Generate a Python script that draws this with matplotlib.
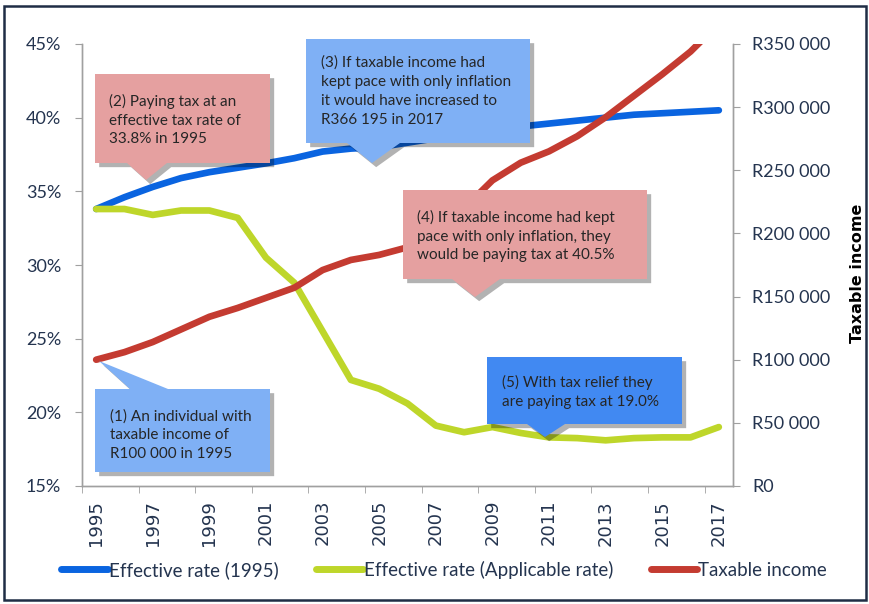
import matplotlib
matplotlib.use("Agg")
import matplotlib.pyplot as plt
import matplotlib.patheffects as pe
from matplotlib import font_manager
from matplotlib.patches import Polygon, Rectangle
from matplotlib.ticker import FuncFormatter, FixedLocator

# data
years = [1995, 1996, 1997, 1998, 1999, 2000, 2001, 2002, 2003, 2004, 2005, 2006,
         2007, 2008, 2009, 2010, 2011, 2012, 2013, 2014, 2015, 2016, 2017]
rate_1995 = [33.8, 34.6, 35.3, 35.9, 36.3, 36.6, 36.9, 37.25, 37.7, 37.9, 38.0, 38.3,
             38.6, 38.9, 39.2, 39.4, 39.6, 39.8, 40.0, 40.2, 40.3, 40.4, 40.5]
rate_applicable = [33.8, 33.8, 33.4, 33.7, 33.7, 33.2, 30.5, 28.8, 25.5, 22.2, 21.6, 20.6,
                   19.1, 18.65, 19.0, 18.6, 18.3, 18.25, 18.1, 18.25, 18.3, 18.3, 19.0]
taxable_income = [100000, 106000, 114000, 124000, 134000, 141000, 149000, 157000, 171000,
                  179000, 183000, 189000, 202000, 220000, 242000, 256000, 265000, 277000,
                  292000, 309000, 326000, 344000, 366195]
series_names = ["Effective rate (1995)", "Effective rate (Applicable rate)", "Taxable income"]

W, H = 870, 604
names = {f.name for f in font_manager.fontManager.ttflist}
main_font = "Liberation Sans Narrow" if "Liberation Sans Narrow" in names else "Lato"
plt.rcParams["font.family"] = [main_font, "DejaVu Sans"]

navy = "#24344f"
blue, green, red = "#0a64e0", "#bed62a", "#c43b31"

fig = plt.figure(figsize=(W / 100, H / 100), dpi=100)
ax = fig.add_axes([82 / W, 1 - 486 / H, 651 / W, 442 / H])
ax2 = ax.twinx()

x = list(range(len(years)))
lw = 4.8
ax.plot(x, rate_1995, color=blue, lw=lw, solid_capstyle="round", solid_joinstyle="round")
ax.plot(x, rate_applicable, color=green, lw=lw, solid_capstyle="round", solid_joinstyle="round")
ax2.plot(x, taxable_income, color=red, lw=lw, solid_capstyle="round", solid_joinstyle="round")

ax.set_xlim(-0.5, len(years) - 0.5)
ax.set_ylim(15, 45)
ax2.set_ylim(0, 350000)
ax.set_yticks(range(15, 50, 5))
ax.yaxis.set_major_formatter(FuncFormatter(lambda v, p: f"{v:.0f}%"))
ax2.set_yticks(range(0, 350001, 50000))
ax2.yaxis.set_major_formatter(
    FuncFormatter(lambda v, p: "R" + f"{v:,.0f}".replace(",", " ")))

# category labels every second year, tick marks between categories
ax.set_xticks(x[::2])
ax.set_xticklabels([str(y) for y in years[::2]], rotation=90, fontsize=13,
                   family="DejaVu Sans", color=navy)
ax.xaxis.set_minor_locator(FixedLocator([i - 0.5 for i in x[::2]]))
ax.tick_params(axis="x", which="major", length=0, pad=10)
ax.tick_params(axis="x", which="minor", length=5, color="#a0a0a0")

ax.tick_params(axis="y", length=5, color="#a0a0a0", labelsize=13, labelcolor=navy, pad=10)
ax2.tick_params(axis="y", length=5, color="#a0a0a0", labelsize=13, labelcolor=navy, pad=9)

for a in (ax, ax2):
    a.spines["top"].set_visible(False)
    for s in ("left", "right", "bottom"):
        a.spines[s].set_color("#a0a0a0")
        a.spines[s].set_linewidth(1.0)

fig.text(858 / W, 1 - 273 / H, "Taxable income", rotation=90, ha="center", va="center",
         fontsize=11.5, fontweight="bold", family="DejaVu Sans", color="black")

# legend below the axis
handles = [plt.Line2D([], [], color=c, lw=5, solid_capstyle="round") for c in (blue, green, red)]
fig.legend(handles, series_names, loc="center", bbox_to_anchor=(444 / W, 1 - 570 / H),
           ncol=3, frameon=False, fontsize=13.5, handlelength=2.5, handletextpad=0.05,
           columnspacing=2.0, labelcolor=navy)


def px(xp, yp):
    return (xp / W, 1 - yp / H)


def callout(box, tip, base, text, color, text_pos):
    x0, y0, x1, y1 = box
    xa, xb = base
    if tip[1] > y1:
        pts = [(x0, y0), (x1, y0), (x1, y1), (xb, y1), tip, (xa, y1), (x0, y1)]
    else:
        pts = [(x0, y0), (xa, y0), tip, (xb, y0), (x1, y0), (x1, y1), (x0, y1)]
    poly = Polygon([px(*p) for p in pts], closed=True, transform=fig.transFigure,
                   facecolor=color, edgecolor="none", zorder=5)
    poly.set_path_effects([pe.SimplePatchShadow(offset=(3, -3), shadow_rgbFace="k", alpha=0.3),
                           pe.Normal()])
    fig.add_artist(poly)
    fig.text(*px(*text_pos), text, ha="left", va="center", fontsize=11, color="#262626",
             linespacing=1.45, zorder=6)


light_blue, mid_blue, pink = "#7fb0f5", "#4189f2", "#e5a0a0"
callout((95, 389, 270, 472), (99, 361), (130, 168),
        "(1) An individual with\ntaxable income of\nR100 000 in 1995", light_blue, (110, 435))
callout((95, 74, 270, 163), (146, 180), (127, 167),
        "(2) Paying tax at an\neffective tax rate of\n33.8% in 1995", pink, (109, 120))
callout((306, 39, 530, 143), (372, 163), (347, 400),
        "(3) If taxable income had\nkept pace with only inflation\nit would have increased to\nR366 195 in 2017",
        light_blue, (321, 91))
callout((403, 190, 647, 279), (475, 297), (452, 500),
        "(4) If taxable income had kept\npace with only inflation, they\nwould be paying tax at 40.5%",
        pink, (417, 236))
callout((487, 357, 682, 424), (545, 437), (527, 565),
        "(5) With tax relief they\nare paying tax at 19.0%", mid_blue, (502, 392))

# outer frame
fig.add_artist(Rectangle((4 / W, 4 / H), 862 / W, 594 / H, transform=fig.transFigure,
                         fill=False, edgecolor="#1f2d45", linewidth=1.8, zorder=10))

fig.savefig("out.png", dpi=100)
